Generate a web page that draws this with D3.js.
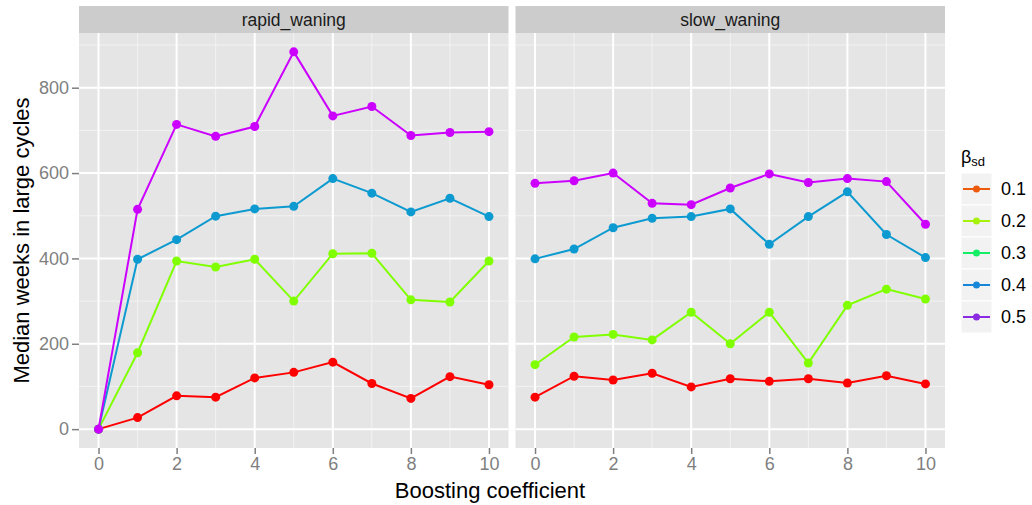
<!DOCTYPE html>
<html>
<head>
<meta charset="UTF-8">
<title>Median weeks in large cycles</title>
<script src="https://d3js.org/d3.v7.min.js"></script>
<style>
  * { margin: 0; padding: 0; }
  body { background: #fff; font-family: 'Liberation Sans', Arial, sans-serif; }
</style>
</head>
<body>
<div id="chart"></div>
<script>
// data
const boosting = [0, 1, 2, 3, 4, 5, 6, 7, 8, 9, 10];
const facets = ['rapid_waning', 'slow_waning'];
const betaLevels = ['0.1', '0.2', '0.3', '0.4', '0.5'];
const xTicks = [0, 2, 4, 6, 8, 10];
const yTicks = [0, 200, 400, 600, 800];

const rapid01 = [0, 27, 78, 75, 120, 133, 157, 107, 72, 123, 104];
const rapid02 = [0, 179, 394, 380, 398, 300, 411, 412, 303, 298, 394];
const rapid04 = [0, 398, 444, 499, 516, 522, 587, 553, 509, 541, 498];
const rapid05 = [0, 515, 714, 686, 709, 884, 734, 756, 688, 695, 697];

const slow01 = [75, 124, 115, 131, 99, 118, 112, 118, 108, 125, 106];
const slow02 = [151, 216, 222, 209, 274, 200, 274, 155, 290, 328, 305];
const slow04 = [399, 422, 472, 494, 498, 516, 433, 498, 556, 456, 402];
const slow05 = [576, 582, 600, 529, 526, 565, 598, 578, 587, 580, 480];

// colours used for the drawn lines and for the legend keys (they differ in the original)
const lineColors = { '0.1': '#ff0000', '0.2': '#80ff00', '0.3': '#00e864', '0.4': '#0c9ad0', '0.5': '#cc00ff' };
const keyColors = { '0.1': '#ec5a0c', '0.2': '#a6f20c', '0.3': '#14ee64', '0.4': '#1686d8', '0.5': '#8a2be2' };

const seriesByFacet = {
  rapid_waning: [
    { beta: '0.1', values: rapid01 },
    { beta: '0.2', values: rapid02 },
    { beta: '0.4', values: rapid04 },
    { beta: '0.5', values: rapid05 }
  ],
  slow_waning: [
    { beta: '0.1', values: slow01 },
    { beta: '0.2', values: slow02 },
    { beta: '0.4', values: slow04 },
    { beta: '0.5', values: slow05 }
  ]
};

const W = 1032, H = 505;
const panelTop = 33, panelBottom = 448, stripH = 27;
const panelLefts = [79, 515.5];
const panelW = 429.5;
const font = "'Liberation Sans', Arial, sans-serif";

const svg = d3.select('#chart').append('svg')
  .attr('width', W).attr('height', H);

// y range with ggplot's 5% expansion
const allVals = d3.merge(facets.map(f => d3.merge(seriesByFacet[f].map(s => s.values))));
const yMin = d3.min(allVals), yMax = d3.max(allVals);
const pad = (yMax - yMin) * 0.05;
const y = d3.scaleLinear().domain([yMin - pad, yMax + pad]).range([panelBottom, panelTop]);

facets.forEach((facet, fi) => {
  const left = panelLefts[fi];
  const x = d3.scaleLinear().domain([-0.5, 10.5]).range([left, left + panelW]);
  const g = svg.append('g');

  // strip
  g.append('rect').attr('x', left).attr('y', panelTop - stripH)
    .attr('width', panelW).attr('height', stripH).attr('fill', '#cccccc');
  g.append('text').attr('x', left + panelW / 2).attr('y', panelTop - stripH / 2 + 6)
    .attr('text-anchor', 'middle').attr('font-size', 17.5).attr('fill', '#1a1a1a')
    .text(facet);

  // panel background
  g.append('rect').attr('x', left).attr('y', panelTop)
    .attr('width', panelW).attr('height', panelBottom - panelTop).attr('fill', '#e5e5e5');

  // minor grid
  const minorX = d3.range(1, 10, 2);
  const minorY = [100, 300, 500, 700, 900];
  g.selectAll('.mx').data(minorX).enter().append('line')
    .attr('x1', d => x(d)).attr('x2', d => x(d))
    .attr('y1', panelTop).attr('y2', panelBottom)
    .attr('stroke', '#f2f2f2').attr('stroke-width', 1);
  g.selectAll('.my').data(minorY).enter().append('line')
    .attr('x1', left).attr('x2', left + panelW)
    .attr('y1', d => y(d)).attr('y2', d => y(d))
    .attr('stroke', '#f2f2f2').attr('stroke-width', 1);

  // major grid
  g.selectAll('.gx').data(xTicks).enter().append('line')
    .attr('x1', d => x(d)).attr('x2', d => x(d))
    .attr('y1', panelTop).attr('y2', panelBottom)
    .attr('stroke', '#ffffff').attr('stroke-width', 2);
  g.selectAll('.gy').data(yTicks).enter().append('line')
    .attr('x1', left).attr('x2', left + panelW)
    .attr('y1', d => y(d)).attr('y2', d => y(d))
    .attr('stroke', '#ffffff').attr('stroke-width', 2);

  // x axis
  const xAxis = d3.axisBottom(x).tickValues(xTicks).tickSize(6).tickPadding(3);
  const xa = g.append('g').attr('transform', `translate(0,${panelBottom})`).call(xAxis);
  xa.select('.domain').remove();
  xa.selectAll('line').attr('stroke', '#7f7f7f').attr('stroke-width', 1.5);
  xa.selectAll('text').attr('fill', '#7f7f7f').attr('font-size', 18).attr('font-family', font);

  // lines and points
  const line = d3.line().x((d, i) => x(boosting[i])).y(d => y(d));
  seriesByFacet[facet].forEach(s => {
    g.append('path').datum(s.values)
      .attr('d', line).attr('fill', 'none')
      .attr('stroke', lineColors[s.beta]).attr('stroke-width', 2);
    g.selectAll(null).data(s.values).enter().append('circle')
      .attr('cx', (d, i) => x(boosting[i])).attr('cy', d => y(d))
      .attr('r', 4.5).attr('fill', lineColors[s.beta]);
  });
});

// y axis (left panel only)
const yAxis = d3.axisLeft(y).tickValues(yTicks).tickSize(7).tickPadding(3);
const ya = svg.append('g').attr('transform', `translate(${panelLefts[0]},0)`).call(yAxis);
ya.select('.domain').remove();
ya.selectAll('line').attr('stroke', '#7f7f7f').attr('stroke-width', 1.5);
ya.selectAll('text').attr('fill', '#7f7f7f').attr('font-size', 18).attr('font-family', font);

// axis titles
svg.append('text')
  .attr('x', 490).attr('y', 498)
  .attr('text-anchor', 'middle').attr('font-size', 22).attr('fill', '#000')
  .text('Boosting coefficient');
svg.append('text')
  .attr('transform', `translate(29,${(panelTop + panelBottom) / 2}) rotate(-90)`)
  .attr('text-anchor', 'middle').attr('font-size', 22).attr('fill', '#000')
  .text('Median weeks in large cycles');

// legend
const legX = 961, legY = 173, keyW = 31, keyH = 32;
const lt = svg.append('text').attr('x', legX).attr('y', 163).attr('font-size', 18).attr('fill', '#000');
lt.append('tspan').text('β');
lt.append('tspan').attr('font-size', 13).attr('dy', 3).text('sd');

const leg = svg.append('g').selectAll('g').data(betaLevels).enter().append('g')
  .attr('transform', (d, i) => `translate(${legX},${legY + i * keyH})`);
leg.append('rect').attr('width', keyW).attr('height', keyH)
  .attr('fill', '#f2f2f2').attr('stroke', '#ffffff').attr('stroke-width', 1);
leg.append('line').attr('x1', 2).attr('x2', keyW - 2)
  .attr('y1', keyH / 2).attr('y2', keyH / 2)
  .attr('stroke', d => keyColors[d]).attr('stroke-width', 2);
leg.append('circle').attr('cx', keyW / 2).attr('cy', keyH / 2).attr('r', 3.5)
  .attr('fill', d => keyColors[d]);
leg.append('text').attr('x', keyW + 9).attr('y', keyH / 2 + 6)
  .attr('font-size', 18).attr('fill', '#000').text(d => d);
</script>
</body>
</html>
